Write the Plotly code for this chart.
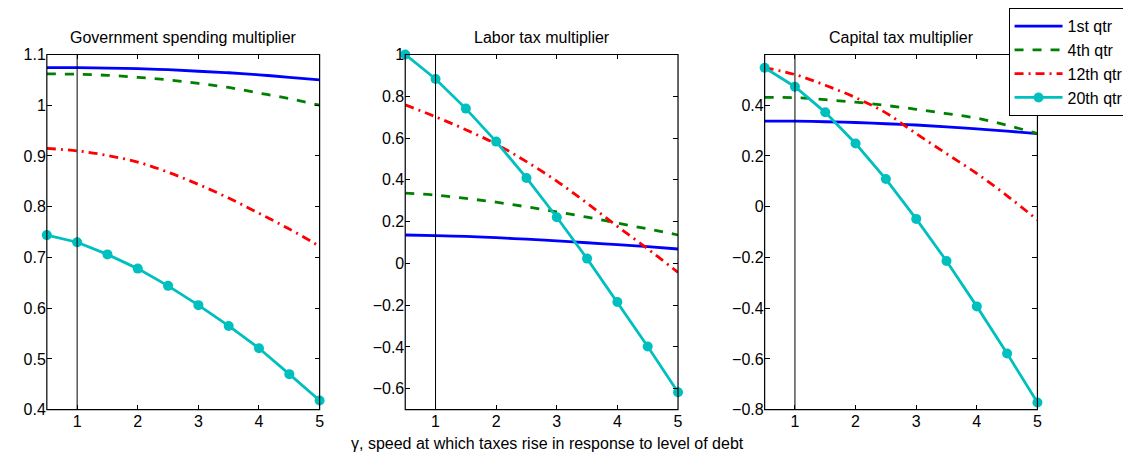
import plotly.graph_objects as go

# gamma grid
gamma = [0.5, 1, 1.5, 2, 2.5, 3, 3.5, 4, 4.5, 5]
quarters = ['1st qtr', '4th qtr', '12th qtr', '20th qtr']

# Government spending multiplier
gov_q1 = [1.074, 1.074, 1.073, 1.072, 1.070, 1.067, 1.064, 1.060, 1.055, 1.050]
gov_q4 = [1.062, 1.061, 1.059, 1.055, 1.050, 1.043, 1.035, 1.024, 1.013, 1.000]
gov_q12 = [0.915, 0.910, 0.901, 0.888, 0.868, 0.844, 0.817, 0.787, 0.756, 0.722]
gov_q20 = [0.744, 0.730, 0.706, 0.678, 0.644, 0.606, 0.565, 0.521, 0.470, 0.418]

# Labor tax multiplier
lab_q1 = [0.136, 0.133, 0.129, 0.123, 0.116, 0.108, 0.099, 0.090, 0.080, 0.069]
lab_q4 = [0.336, 0.327, 0.311, 0.293, 0.271, 0.247, 0.221, 0.193, 0.165, 0.136]
lab_q12 = [0.759, 0.702, 0.640, 0.571, 0.487, 0.394, 0.288, 0.177, 0.070, -0.043]
lab_q20 = [1.000, 0.883, 0.741, 0.583, 0.409, 0.221, 0.023, -0.185, -0.398, -0.617]

# Capital tax multiplier
cap_q1 = [0.337, 0.337, 0.335, 0.332, 0.327, 0.322, 0.315, 0.307, 0.298, 0.288]
cap_q4 = [0.431, 0.430, 0.422, 0.412, 0.399, 0.384, 0.367, 0.349, 0.321, 0.288]
cap_q12 = [0.548, 0.521, 0.479, 0.430, 0.370, 0.288, 0.209, 0.131, 0.043, -0.052]
cap_q20 = [0.548, 0.473, 0.372, 0.249, 0.109, -0.048, -0.214, -0.393, -0.579, -0.772]

titles = ['Government spending multiplier', 'Labor tax multiplier', 'Capital tax multiplier']
panels = [[gov_q1, gov_q4, gov_q12, gov_q20],
          [lab_q1, lab_q4, lab_q12, lab_q20],
          [cap_q1, cap_q4, cap_q12, cap_q20]]
yranges = [[0.4, 1.1], [-0.7, 1.0], [-0.8, 0.6]]
yticks = [[0.4, 0.5, 0.6, 0.7, 0.8, 0.9, 1.0, 1.1],
          [-0.6, -0.4, -0.2, 0, 0.2, 0.4, 0.6, 0.8, 1.0],
          [-0.8, -0.6, -0.4, -0.2, 0, 0.2, 0.4]]
ytext = [['0.4', '0.5', '0.6', '0.7', '0.8', '0.9', '1', '1.1'],
         ['\u22120.6', '\u22120.4', '\u22120.2', '0', '0.2', '0.4', '0.6', '0.8', '1'],
         ['\u22120.8', '\u22120.6', '\u22120.4', '\u22120.2', '0', '0.2', '0.4']]

W, H = 1131, 453
xpix = [(39, 313), (399, 673), (760, 1034)]
ytop, ybot = 40, 409

colors = ['#0000ff', '#008000', '#ff0000', '#00bfbf']
dashes = ['solid', 'dash', '9px,5px,2px,5px', 'solid']
font = 'Liberation Sans, Arial, sans-serif'

fig = go.Figure()
for p in range(3):
    xa = 'x' if p == 0 else 'x%d' % (p + 1)
    ya = 'y' if p == 0 else 'y%d' % (p + 1)
    for i in range(4):
        fig.add_trace(go.Scatter(
            x=gamma, y=panels[p][i], xaxis=xa, yaxis=ya,
            name=quarters[i], legendgroup=quarters[i], showlegend=(p == 2),
            mode='lines+markers' if i == 3 else 'lines',
            line=dict(color=colors[i], width=2.8, dash=dashes[i],
                      shape='linear' if i == 3 else 'spline'),
            marker=dict(size=10, color=colors[i]),
            cliponaxis=False if i == 3 else True,
        ))

layout = dict(
    width=W, height=H, margin=dict(l=0, r=0, t=0, b=0),
    plot_bgcolor='white', paper_bgcolor='white',
    font=dict(family=font, size=16, color='black'),
    legend=dict(x=1005 / W, y=1.018, xanchor='left', yanchor='top',
                bgcolor='white', bordercolor='black', borderwidth=1,
                font=dict(size=16), tracegroupgap=0, itemwidth=48),
    shapes=[], annotations=[],
)
for p in range(3):
    sfx = '' if p == 0 else str(p + 1)
    x0, x1 = xpix[p]
    layout['xaxis' + sfx] = dict(
        domain=[x0 / W, x1 / W], range=[0.5, 5], tickvals=[1, 2, 3, 4, 5],
        anchor='y' + sfx, showline=False,
        mirror='allticks', ticks='inside', ticklen=5, tickcolor='#000000',
        tickwidth=1, showgrid=False, zeroline=False, tickfont=dict(size=16))
    layout['yaxis' + sfx] = dict(
        domain=[1 - ybot / H, 1 - ytop / H], range=yranges[p],
        tickvals=yticks[p], ticktext=ytext[p],
        anchor='x' + sfx, showline=False,
        mirror='allticks', ticks='inside', ticklen=5, tickcolor='#000000',
        tickwidth=1, showgrid=False, zeroline=False, tickfont=dict(size=16))
    # vertical reference line at gamma = 1
    layout['shapes'].append(dict(
        type='line', xref='x' + sfx, yref='paper',
        x0=1, x1=1, y0=1 - ybot / H, y1=1 - ytop / H,
        line=dict(color='black', width=1)))
    # panel frame
    layout['shapes'].append(dict(
        type='rect', xref='paper', yref='paper',
        x0=x0 / W, x1=x1 / W, y0=1 - ybot / H, y1=1 - ytop / H,
        line=dict(color='black', width=1.2)))
    layout['annotations'].append(dict(
        text=titles[p], x=(x0 + x1) / 2 / W, y=1 - 22 / H, xref='paper', yref='paper',
        showarrow=False, font=dict(size=16), xanchor='center', yanchor='middle'))

layout['annotations'].append(dict(
    text='\u03b3, speed at which taxes rise in response to level of debt',
    x=542 / W, y=1 - 444 / H, xref='paper', yref='paper', showarrow=False,
    font=dict(size=16), xanchor='center', yanchor='middle'))

fig.update_layout(**layout)
fig.write_html('out.html')
